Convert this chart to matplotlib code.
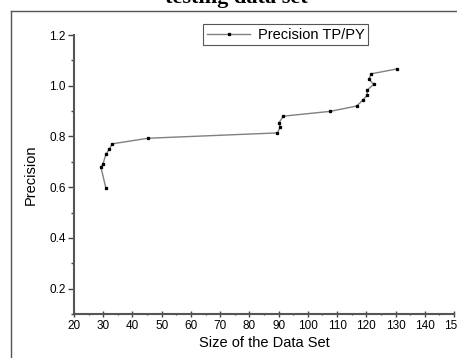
import matplotlib
matplotlib.use("Agg")
import matplotlib.pyplot as plt
from matplotlib.lines import Line2D
from matplotlib.ticker import MultipleLocator

# values, in drawing order
size = [30.9, 29.2, 29.9, 30.9, 32.0, 33.1, 45.4, 89.6, 90.5, 90.2, 91.6,
        107.7, 116.7, 118.8, 120.3, 120.3, 122.5, 120.9, 121.7, 130.4]
precision = [0.597, 0.679, 0.691, 0.729, 0.749, 0.771, 0.793, 0.814, 0.836,
             0.855, 0.880, 0.899, 0.920, 0.943, 0.963, 0.983, 1.005, 1.026,
             1.047, 1.066]

plt.rcParams['font.family'] = ['Liberation Sans', 'DejaVu Sans']

fig = plt.figure(figsize=(4.57, 3.58), dpi=100)
ax = fig.add_axes([74 / 457, 44 / 358, 380 / 457, 279 / 358])

ax.plot(size, precision, color='#808080', lw=1.0, marker='s', ms=1.4,
        mfc='black', mec='black', label='Precision TP/PY')

ax.set_xlim(20, 150)
ax.set_ylim(0.1, 1.2)
ax.xaxis.set_major_locator(MultipleLocator(10))
ax.xaxis.set_minor_locator(MultipleLocator(5))
ax.yaxis.set_minor_locator(MultipleLocator(0.1))
ax.set_yticks([0.2, 0.4, 0.6, 0.8, 1.0, 1.2])
ax.tick_params(axis='both', which='major', labelsize=8.5, length=4, width=1,
               color='#444444', pad=2)
ax.tick_params(axis='both', which='minor', length=2, width=1, color='#444444')
ax.tick_params(axis='x', which='both', direction='inout')

for s in ['top', 'right']:
    ax.spines[s].set_visible(False)
for s in ['left', 'bottom']:
    ax.spines[s].set_linewidth(1.5)
    ax.spines[s].set_color('#555555')

ax.set_xlabel('Size of the Data Set', fontsize=10.5, labelpad=3)
ax.set_ylabel('Precision', fontsize=10.5, labelpad=8)

leg = ax.legend(loc='upper left', bbox_to_anchor=(203 / 457, 1 - 24 / 358),
                bbox_transform=fig.transFigure, fontsize=10.5, fancybox=False,
                framealpha=1, edgecolor='#555555', borderpad=0.25,
                handlelength=3.0, handletextpad=0.5, borderaxespad=0)
leg.get_frame().set_linewidth(0.8)

# page frame and clipped title from the source screenshot
fig.add_artist(Line2D([11 / 457, 11 / 457], [0, 1 - 11 / 358],
                      transform=fig.transFigure, color='#555555', lw=1))
fig.add_artist(Line2D([11 / 457, 1], [1 - 11 / 358, 1 - 11 / 358],
                      transform=fig.transFigure, color='#555555', lw=1))
fig.text(236 / 457, 1 - 3 / 358, 'testing data set', ha='center',
         va='baseline', fontsize=16, fontweight='bold',
         family=['Liberation Serif', 'DejaVu Serif'])

fig.savefig('out.png', dpi=100)
